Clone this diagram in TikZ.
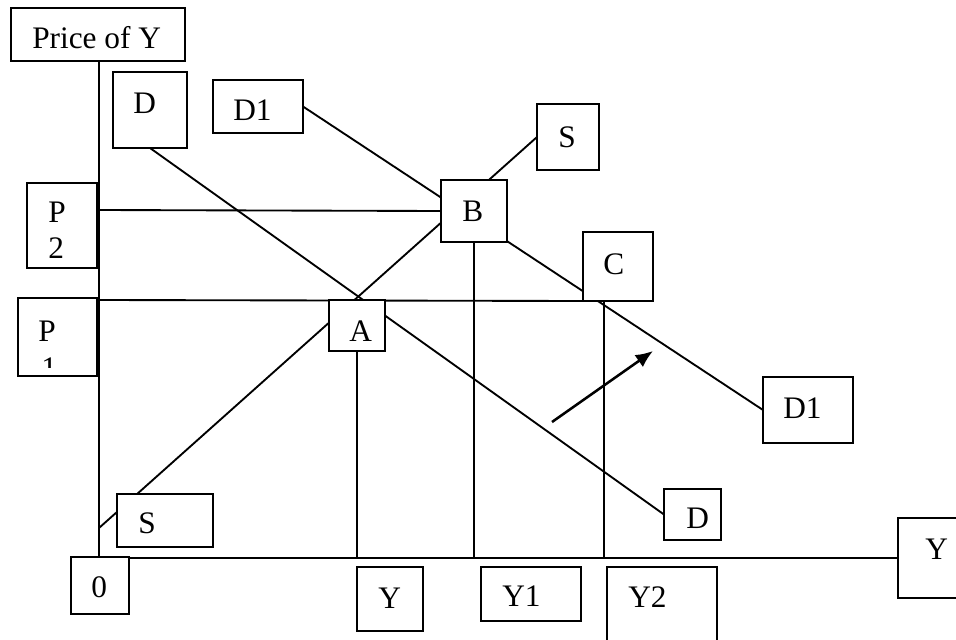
\documentclass[tikz,border=0pt]{standalone}
\usepackage{fontspec}
\setmainfont{Liberation Serif}
\usetikzlibrary{arrows.meta}
\pgfdeclarelayer{bg}
\pgfsetlayers{bg,main}
\tikzset{
  bx/.style 2 args={draw, fill=white, line width=1.4pt, inner sep=0pt, outer sep=0pt,
    minimum width=#1*0.75pt, minimum height=#2*0.75pt},
  txt/.style={inner sep=0pt, anchor=base west, font=\fontsize{23.5}{28}\selectfont},
  ln/.style={line width=1.4pt},
  axis/.style={line width=1.7pt},
}
\begin{document}
\begin{tikzpicture}[x=0.75pt,y=-0.75pt]
\useasboundingbox (0,0) rectangle (956,639);
\clip (0,0) rectangle (956,639);
% boxes
\node[bx={174}{53}] (price) at (98,34.5) {};
\node[bx={74}{76}] (Dtop) at (150,110) {};
\node[bx={90}{53}] (D1top) at (258,106.5) {};
\node[bx={70}{85}] (P2) at (62,225.5) {};
\node[bx={79}{78}] (P1) at (57.5,337) {};
\node[bx={56}{51}] (A) at (357,325.5) {};
\node[bx={66}{62}] (B) at (474,211) {};
\node[bx={62}{66}] (Stop) at (568,137) {};
\node[bx={70}{69}] (C) at (618,266.5) {};
\node[bx={90}{66}] (D1bot) at (808,410) {};
\node[bx={57}{51}] (Dbot) at (692.5,514.5) {};
\node[bx={96}{53}] (Sbot) at (165,520.5) {};
\node[bx={58}{57}] (zero) at (100,585.5) {};
\node[bx={66}{64}] (Ybox) at (390,599) {};
\node[bx={100}{54}] (Y1box) at (531,594) {};
\node[bx={110}{93}] (Y2box) at (662,613.5) {};
\node[bx={92}{80}] (Yr) at (944,558) {};
% texts
\node[txt] at (32,48) {Price of Y};
\node[txt] at (133,113) {D};
\node[txt] at (233,120) {D1};
\node[txt] at (48,222) {P};
\node[txt] at (48,258) {2};
\node[txt] at (38,341) {P};
\begin{scope}
  \clip (20,340) rectangle (95,367);
  \node[txt] at (41,378) {1};
\end{scope}
\node[txt] at (349,341) {A};
\node[txt] at (462,221) {B};
\node[txt] at (558,147) {S};
\node[txt] at (603,274) {C};
\node[txt] at (783,418) {D1};
\node[txt] at (686,528) {D};
\node[txt] at (138,533) {S};
\node[txt] at (91,597) {0};
\node[txt] at (378,608) {Y};
\node[txt] at (502,606) {Y1};
\node[txt] at (628,607) {Y2};
\node[txt] at (925,559) {Y};
% connectors
\coordinate (origin) at (99,558);
\coordinate (s0) at (99,528);
\coordinate (p2a) at (99,210);
\coordinate (p1a) at (99,300);
\coordinate (y2top) at (604,301);
\coordinate (arrA) at (552,422);
\coordinate (arrB) at (653,351);
\begin{pgfonlayer}{bg}
  \draw[axis] (price.south -| origin) -- (origin);
  \draw[axis] (zero.north east |- origin) -- (Yr.west);
  \draw[ln] (p2a) -- (B.west);
  \draw[ln] (p1a) -- (C.south west);
  \draw[ln] (D1top.east) -- (D1bot.west);
  \draw[ln] (Dtop.south) -- (Dbot.west);
  \draw[ln] (s0) -- (Stop.west);
  \draw[ln] (A.south) -- (A.south |- origin);
  \draw[ln] (B.south) -- (B.south |- origin);
  \draw[ln] (y2top) -- (y2top |- origin);
\end{pgfonlayer}
\draw[line width=1.9pt, -{Latex[length=13pt,width=11pt]}] (arrA) -- (arrB);
\end{tikzpicture}
\end{document}
